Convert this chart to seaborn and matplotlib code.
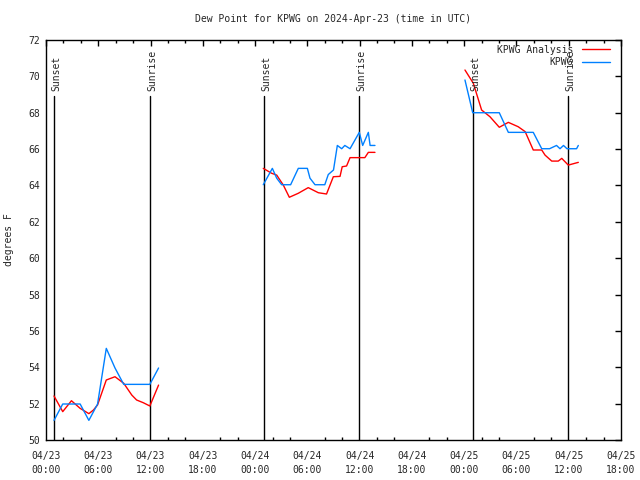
"""
Dew point at KPWG, 2024-04-23 .. 2024-04-25 (UTC), station obs vs analysis.
gnuplot-looking chart redone with seaborn/matplotlib.
"""

import numpy as np
import pandas as pd
import matplotlib
matplotlib.use('Agg')
import matplotlib.pyplot as plt
import matplotlib.dates as mdates
import matplotlib.transforms as mtransforms
import seaborn as sns

# ============================================================================
# DATA  (hours since 2024-04-23 00:00 UTC, degrees F)
# ============================================================================
START_TIME = pd.Timestamp('2024-04-23 00:00')
END_TIME = pd.Timestamp('2024-04-25 18:00')

# analysis series (red), three chunks
ana_seg1_h = [0.92, 1.92, 2.92, 3.92, 4.92, 5.45, 5.92, 6.92, 7.92, 8.92,
              9.85, 10.4, 11.17, 11.92, 12.92]
ana_seg1_v = [52.42, 51.56, 52.16, 51.74, 51.45, 51.65, 51.93, 53.30, 53.48,
              53.12, 52.47, 52.20, 52.05, 51.87, 53.02]
ana_seg2_h = [24.94, 25.90, 26.48, 27.24, 27.93, 28.96, 30.10, 31.26, 32.20,
              32.98, 33.75, 34.00, 34.50, 34.90, 36.60, 37.00, 37.76]
ana_seg2_v = [64.94, 64.67, 64.57, 64.02, 63.35, 63.57, 63.88, 63.60, 63.53,
              64.48, 64.50, 65.03, 65.07, 65.53, 65.53, 65.82, 65.82]
ana_seg3_h = [48.09, 49.05, 50.00, 50.96, 52.03, 53.07, 54.20, 55.00, 55.93,
              56.90, 57.28, 58.05, 58.80, 59.20, 59.95, 61.10]
ana_seg3_v = [70.35, 69.62, 68.15, 67.78, 67.20, 67.47, 67.23, 66.96, 65.95,
              65.95, 65.67, 65.34, 65.34, 65.49, 65.12, 65.27]

# station obs (blue)
obs_seg1_h = [0.92, 1.92, 2.92, 3.92, 4.92, 5.92, 6.92, 7.92, 8.92, 9.92,
              10.92, 11.92, 12.92]
obs_seg1_v = [51.08, 51.98, 51.98, 51.98, 51.08, 51.98, 55.04, 53.96, 53.06,
              53.06, 53.06, 53.06, 53.96]
obs_seg2_h = [24.94, 25.98, 26.48, 27.05, 28.08, 28.96, 30.00, 30.30, 30.88,
              32.00, 32.40, 33.00, 33.44, 33.94, 34.30, 34.90, 35.96, 36.35,
              37.00, 37.20, 37.76]
obs_seg2_v = [64.04, 64.94, 64.40, 64.04, 64.04, 64.94, 64.94, 64.40, 64.04,
              64.04, 64.60, 64.85, 66.20, 66.02, 66.20, 66.02, 66.92, 66.20,
              66.92, 66.20, 66.20]
obs_seg3_h = [48.09, 48.98, 52.03, 53.07, 55.93, 56.90, 57.80, 58.60, 59.00,
              59.40, 59.80, 60.90, 61.10]
obs_seg3_v = [69.80, 68.00, 68.00, 66.92, 66.92, 66.02, 66.02, 66.20, 66.02,
              66.20, 66.02, 66.02, 66.20]

SERIES_NAMES = ['KPWG Analysis', 'KPWG']
SERIES_COLORS = ['#ff0000', '#0080ff']

SUN_EVENTS = ['Sunset', 'Sunrise', 'Sunset', 'Sunrise', 'Sunset', 'Sunrise']
SUN_HOURS = [0.95, 11.98, 25.03, 35.93, 49.05, 59.97]

Y_TICKS = list(range(50, 73, 2))


def build_frame():
    chunks = [
        (SERIES_NAMES[0], 1, ana_seg1_h, ana_seg1_v),
        (SERIES_NAMES[0], 2, ana_seg2_h, ana_seg2_v),
        (SERIES_NAMES[0], 3, ana_seg3_h, ana_seg3_v),
        (SERIES_NAMES[1], 1, obs_seg1_h, obs_seg1_v),
        (SERIES_NAMES[1], 2, obs_seg2_h, obs_seg2_v),
        (SERIES_NAMES[1], 3, obs_seg3_h, obs_seg3_v),
    ]
    rows = []
    for name, seg, hrs, vals in chunks:
        for h, v in zip(hrs, vals):
            rows.append({'series': name, 'segment': seg,
                         'time': START_TIME + pd.Timedelta(hours=h),
                         'dewpt': v})
    return pd.DataFrame(rows)


def main():
    df = build_frame()

    sns.set_style('white')
    plt.rcParams['font.family'] = ['DejaVu Sans Mono']
    plt.rcParams['font.size'] = 7

    fig = plt.figure(figsize=(6.4, 4.8), dpi=100)
    ax = fig.add_axes([46 / 640, 40 / 480, 575 / 640, 400 / 480])

    sns.lineplot(data=df, x='time', y='dewpt', hue='series', units='segment',
                 estimator=None, hue_order=SERIES_NAMES,
                 palette=dict(zip(SERIES_NAMES, SERIES_COLORS)),
                 linewidth=1.0, ax=ax)

    # sunrise / sunset markers
    trans = mtransforms.blended_transform_factory(ax.transData, ax.transAxes)
    for label, h in zip(SUN_EVENTS, SUN_HOURS):
        t = mdates.date2num(START_TIME + pd.Timedelta(hours=h))
        ax.plot([t, t], [0, 0.86], color='black', linewidth=1.0,
                transform=trans, zorder=1)
        ax.text(t + 0.01, 0.872, label, rotation=90, ha='center', va='bottom',
                transform=trans, fontsize=7)

    ax.set_xlim(START_TIME, END_TIME)
    ax.set_ylim(50, 72)
    ax.set_yticks(Y_TICKS)
    ax.xaxis.set_major_locator(mdates.HourLocator(byhour=[0, 6, 12, 18]))
    ax.xaxis.set_minor_locator(mdates.HourLocator(interval=2))
    ax.xaxis.set_major_formatter(mdates.DateFormatter('%m/%d\n%H:%M'))
    for lab in ax.get_xticklabels():
        lab.set_linespacing(1.45)

    ax.tick_params(axis='both', which='major', direction='in', length=4.5,
                   width=1, top=True, right=True, color='black', labelsize=7)
    ax.tick_params(axis='x', which='minor', direction='in', length=2.2,
                   width=1, top=True, bottom=True, color='black')
    ax.tick_params(axis='x', which='major', pad=8)
    ax.tick_params(axis='y', which='major', pad=4)

    for sp in ax.spines.values():
        sp.set_visible(True)
        sp.set_color('black')
        sp.set_linewidth(1.0)

    ax.set_xlabel('')
    ax.set_ylabel('degrees F', fontsize=7)
    ax.yaxis.set_label_coords(-0.055, 0.5)

    fig.text(0.521, 1 - 19 / 480, 'Dew Point for KPWG on 2024-Apr-23 (time in UTC)',
             ha='center', va='center', fontsize=7)

    ax.legend(loc='upper right', bbox_to_anchor=(0.981, 0.988), frameon=False,
              markerfirst=False, borderaxespad=0, borderpad=0,
              handlelength=2.9, handletextpad=0.9, labelspacing=0.25,
              fontsize=7)

    fig.savefig('out.png', dpi=100)
    plt.close(fig)


if __name__ == '__main__':
    main()
